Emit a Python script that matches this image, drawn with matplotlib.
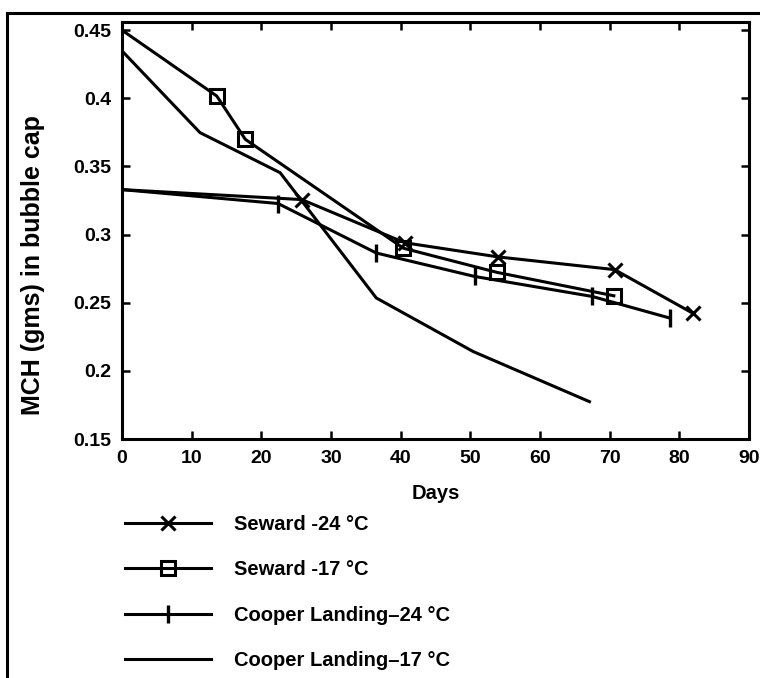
import matplotlib
matplotlib.use('Agg')
import matplotlib.pyplot as plt
from matplotlib.lines import Line2D

plt.rcParams['font.family'] = ['Liberation Sans', 'DejaVu Sans']
plt.rcParams['font.weight'] = 'bold'

# dias e MCH para cada serie
dias_sew24 = [0, 25.8, 40.6, 54.0, 70.7, 81.9]
mch_sew24 = [0.333, 0.3257, 0.294, 0.2836, 0.2743, 0.2424]

dias_sew17 = [0, 13.6, 17.7, 40.4, 53.8, 70.6]
mch_sew17 = [0.450, 0.4017, 0.3699, 0.290, 0.2723, 0.2551]

dias_coop24 = [0, 22.4, 36.5, 50.6, 67.5, 78.6]
mch_coop24 = [0.333, 0.3228, 0.2865, 0.2693, 0.2546, 0.2388]

dias_coop17 = [0, 11.2, 22.7, 36.5, 50.4, 67.1]
mch_coop17 = [0.4348, 0.3748, 0.3454, 0.2535, 0.2142, 0.1774]

rotulos = ['Seward -24 °C', 'Seward -17 °C', 'Cooper Landing\u201324 °C', 'Cooper Landing\u201317 °C']

xticks = [0, 10, 20, 30, 40, 50, 60, 70, 80, 90]
yticks = [0.15, 0.2, 0.25, 0.3, 0.35, 0.4, 0.45]
ytick_labels = ['0.15', '0.2', '0.25', '0.3', '0.35', '0.4', '0.45']

fig = plt.figure(figsize=(7.6, 6.78), dpi=100)
ax = fig.add_axes([122/760, 1 - 439/678, (749 - 122)/760, (439 - 22)/678])

lw = 2.2
sem_inicio = slice(1, None)  # o ponto do dia 0 nao tem marcador
l1, = ax.plot(dias_sew24, mch_sew24, color='black', lw=lw, marker='x', ms=9.5, mew=2.2,
              markevery=sem_inicio)
l2, = ax.plot(dias_sew17, mch_sew17, color='black', lw=lw, marker='s', ms=9.5, mew=2.2,
              mfc='none', markevery=sem_inicio)
l3, = ax.plot(dias_coop24, mch_coop24, color='black', lw=lw, marker='|', ms=13, mew=2.4,
              markevery=sem_inicio)
l4, = ax.plot(dias_coop17, mch_coop17, color='black', lw=lw)

ax.set_xlim(0, 90)
ax.set_ylim(0.15, 0.456)
ax.set_xticks(xticks)
ax.set_xticklabels([str(t) for t in xticks])
ax.set_yticks(yticks)
ax.set_yticklabels(ytick_labels)
ax.tick_params(direction='in', length=6, width=1.8, top=True, right=True,
               labelsize=14, pad=8)
for s in ax.spines.values():
    s.set_linewidth(2.2)

ax.set_xlabel('Days', fontsize=14.5, fontweight='bold', labelpad=12)
fig.text(33/760, 1 - 265/678, 'MCH (gms) in bubble cap', rotation=90,
         fontsize=18, fontweight='bold', ha='center', va='center')

fig.legend([l1, l2, l3, l4], rotulos, loc='upper left',
           bbox_to_anchor=(125/760, 1 - 515/678), frameon=False,
           fontsize=14.5, handlelength=4.25, handletextpad=1.15,
           labelspacing=1.31, borderpad=0, borderaxespad=0, numpoints=1)

# moldura externa
fig.add_artist(Line2D([7/760, 7/760], [0, 1 - 13/678], transform=fig.transFigure,
                      color='black', lw=2.2))
fig.add_artist(Line2D([7/760, 1], [1 - 13/678, 1 - 13/678], transform=fig.transFigure,
                      color='black', lw=2.2))

fig.savefig('out.png', dpi=100)
